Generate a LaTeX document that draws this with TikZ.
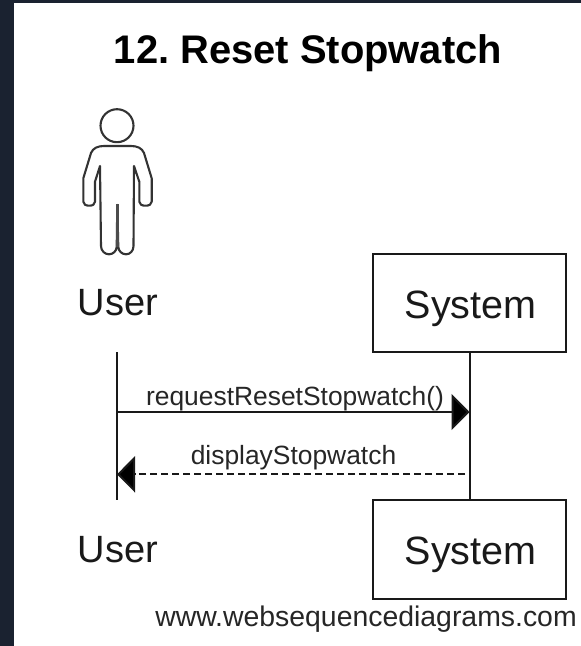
\documentclass[tikz,border=0pt]{standalone}
\usepackage{fontspec}
\setmainfont{Liberation Sans}
\usetikzlibrary{arrows.meta,calc}
\definecolor{pagedark}{HTML}{1A2230}
\tikzset{
  ink/.style={draw=black!90,line width=2pt},
  actorlabel/.style={inner sep=0pt,anchor=base,font=\fontsize{38}{42}\selectfont,text=black!90},
  sysbox/.style={ink,minimum width=193pt,minimum height=98.5pt,inner sep=0pt,text height=30pt,text depth=0pt,font=\fontsize{39.5}{44}\selectfont,text=black!90},
  msglabel/.style={inner sep=0pt,anchor=base,font=\fontsize{26.4}{30}\selectfont,text=black!85},
  lifeline/.style={ink},
  solidmsg/.style={ink,-{Triangle[length=18pt,width=36pt,fill=black]}},
  dashmsg/.style={ink,dash pattern=on 7pt off 4pt,-{Triangle[length=18pt,width=36pt,fill=black]}},
  figure/.style={draw=black!80,line width=2.1pt,line join=round}
}
\begin{document}
\begin{tikzpicture}[x=1pt,y=-1pt]
\useasboundingbox (0,0) rectangle (581,646);
\fill[pagedark] (0,0) rectangle (581,646);
\fill[white] (14,3) rectangle (581,646);
\node[inner sep=0pt,anchor=base,font=\bfseries\fontsize{39.9}{44}\selectfont,text=black] (title) at (308,63.5) {\frenchspacing 12. Reset Stopwatch};
% actor figure
\draw[figure] (117,125.7) circle (16.5);
\draw[figure] (100,166) -- (95,181.7) -- (95,201.7)
  .. controls (95,204.5) and (92.5,205.7) .. (89.3,205.7)
  .. controls (86,205.7) and (83.3,204.5) .. (83.3,201.7)
  -- (83.3,178.3) -- (91,153)
  .. controls (93,148) and (98,146) .. (104,146)
  -- (131,146)
  .. controls (137,146) and (142,148) .. (144,153)
  -- (151.7,178.3) -- (151.7,201.7)
  .. controls (151.7,204.5) and (149,205.7) .. (145.5,205.7)
  .. controls (142,205.7) and (139.3,204.5) .. (139.3,201.7)
  -- (139.3,181.7) -- (134,166) -- (133.5,246)
  .. controls (133.5,251) and (130,254.3) .. (126,254.3)
  .. controls (122,254.3) and (118.3,251) .. (118.3,246.7)
  -- (117.3,205) -- (116.7,246.7)
  .. controls (116.7,251) and (113,254.3) .. (109,254.3)
  .. controls (105,254.3) and (101,251) .. (101,246)
  -- cycle;
\draw[draw=black!70,line width=3.6pt] (117.5,204) -- (117.5,247);
\node[actorlabel] (usertop) at (118,315) {User};
\node[actorlabel] (userbottom) at (118,562.5) {User};
\node[sysbox] (systop) at (469.5,303) {\hspace{2pt}System};
\node[sysbox] (sysbottom) at (469.5,549.5) {\hspace{2pt}System};
\coordinate (uA) at (117,352);
\coordinate (uB) at (117,500);
\draw[lifeline] (uA) -- (uB);
\draw[lifeline] (systop.south) -- (sysbottom.north);
\coordinate (m1a) at (uA |- 0,412);
\coordinate (m1b) at (systop.south |- 0,412);
\coordinate (m2a) at (465,474.3);
\coordinate (m2b) at (uA |- 0,474.3);
\draw[solidmsg] (m1a) -- (m1b);
\draw[dashmsg] (m2a) -- (m2b);
\node[msglabel] (m1label) at (295,405) {requestResetStopwatch()};
\node[msglabel] (m2label) at (293.5,464) {displayStopwatch};
\node[inner sep=0pt,anchor=base,font=\fontsize{28.4}{32}\selectfont,text=black!85] (credit) at (366,626) {www.websequencediagrams.com};
\end{tikzpicture}
\end{document}
